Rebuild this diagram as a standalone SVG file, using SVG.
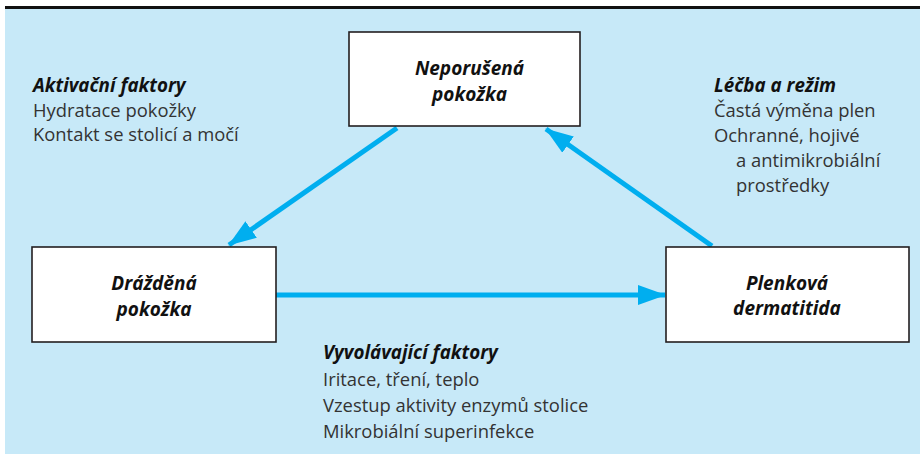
<svg xmlns="http://www.w3.org/2000/svg" width="920" height="454" viewBox="0 0 920 454">
<defs>
<style>
.bg{fill:#c7e9f8}
.box{fill:#fff;stroke:#231f20;stroke-width:1.6}
.lbl{font-family:"Open Sans","Noto Sans",sans-serif;font-size:19px;font-weight:bold;font-style:italic;fill:#111;text-anchor:middle}
.hd{font-family:"Open Sans","Noto Sans",sans-serif;font-size:18.8px;font-weight:bold;font-style:italic;fill:#111}
.tx{font-family:"Open Sans","Noto Sans",sans-serif;font-size:18.4px;fill:#333}
.arr{stroke:#00aeef;stroke-width:5;fill:none;marker-end:url(#ah)}
</style>
<marker id="ah" markerUnits="userSpaceOnUse" viewBox="0 -10 28 20" refX="27" refY="0" markerWidth="28" markerHeight="20" orient="auto">
<path d="M0,-10 L28,0 L0,10 Z" fill="#00aeef"/>
</marker>
</defs>
<rect x="5" y="9" width="915" height="445" class="bg"/>
<rect x="5" y="6" width="915" height="3" fill="#111"/>

<g id="connectors">
<line class="arr" x1="397" y1="128" x2="229" y2="245"/>
<line class="arr" x1="276" y1="295" x2="665" y2="295"/>
<line class="arr" x1="712" y1="246" x2="546" y2="129"/>
</g>

<g id="node-neporusena">
<rect class="box" x="349" y="32" width="231" height="94"/>
<text class="lbl" x="469.5" y="75">Neporušená</text>
<text class="lbl" x="469.5" y="101">pokožka</text>
</g>
<g id="node-drazdena">
<rect class="box" x="32" y="247" width="244" height="95"/>
<text class="lbl" x="154" y="290">Drážděná</text>
<text class="lbl" x="154" y="316">pokožka</text>
</g>
<g id="node-plenkova">
<rect class="box" x="666" y="247" width="243" height="95"/>
<text class="lbl" x="787" y="290">Plenková</text>
<text class="lbl" x="787" y="315">dermatitida</text>
</g>

<g id="note-aktivacni">
<text class="hd" x="33" y="92">Aktivační faktory</text>
<text class="tx" x="33" y="116.5">Hydratace pokožky</text>
<text class="tx" x="33" y="141">Kontakt se stolicí a močí</text>
</g>
<g id="note-lecba">
<text class="hd" x="714" y="92">Léčba a režim</text>
<text class="tx" x="714" y="117">Častá výměna plen</text>
<text class="tx" x="714" y="142">Ochranné, hojivé</text>
<text class="tx" x="736" y="167">a antimikrobiální</text>
<text class="tx" x="736" y="192">prostředky</text>
</g>
<g id="note-vyvolavajici">
<text class="hd" x="323" y="359">Vyvolávající faktory</text>
<text class="tx" x="323" y="386">Iritace, tření, teplo</text>
<text class="tx" x="323" y="412">Vzestup aktivity enzymů stolice</text>
<text class="tx" x="323" y="438">Mikrobiální superinfekce</text>
</g>
</svg>
